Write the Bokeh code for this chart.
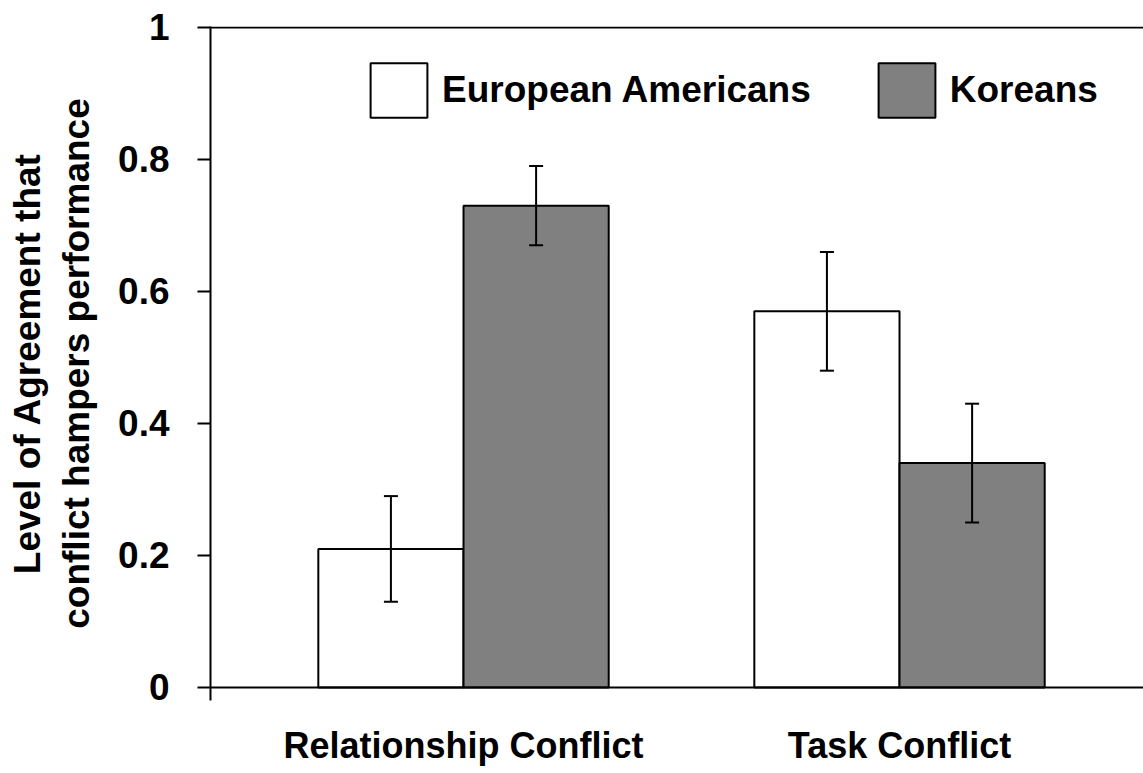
from bokeh.plotting import figure
from bokeh.models import Range1d, FixedTicker, Span, Whisker, TeeHead, ColumnDataSource
from bokeh.embed import file_html
from bokeh.resources import INLINE

categories = ["Relationship Conflict", "Task Conflict"]
series_names = ["European Americans", "Koreans"]
ea_values = [0.21, 0.57]
ea_lower = [0.13, 0.48]
ea_upper = [0.29, 0.66]
ko_values = [0.73, 0.34]
ko_lower = [0.67, 0.25]
ko_upper = [0.79, 0.43]
y_ticks = [0, 0.2, 0.4, 0.6, 0.8, 1]
y_tick_labels = ["0", "0.2", "0.4", "0.6", "0.8", "1"]

FONT = "Liberation Sans"
bar_w = 0.333
off = 0.1665
centers = [i + 1 for i in range(len(categories))]

p = figure(width=1143, height=770, output_backend="svg", toolbar_location=None,
           x_range=Range1d(0.4197, 2.5596), y_range=Range1d(-0.0197, 1.0015),
           min_border_left=210, min_border_right=0, min_border_top=26, min_border_bottom=70)
p.outline_line_color = None
p.xgrid.visible = False
p.ygrid.visible = False
p.background_fill_color = "white"

src_ea = ColumnDataSource(dict(x=[c - off for c in centers], top=ea_values, lo=ea_lower, hi=ea_upper))
src_ko = ColumnDataSource(dict(x=[c + off for c in centers], top=ko_values, lo=ko_lower, hi=ko_upper))

p.vbar(x="x", top="top", bottom=0, width=bar_w, source=src_ea, fill_color="white",
       line_color="black", line_width=2, legend_label=series_names[0])
p.vbar(x="x", top="top", bottom=0, width=bar_w, source=src_ko, fill_color="#808080",
       line_color="black", line_width=2, legend_label=series_names[1])

for src in (src_ea, src_ko):
    w = Whisker(base="x", upper="hi", lower="lo", source=src, line_color="black", line_width=2,
                level="overlay",
                upper_head=TeeHead(size=14, line_width=2, line_color="black"),
                lower_head=TeeHead(size=14, line_width=2, line_color="black"))
    p.add_layout(w)

p.add_layout(Span(location=0, dimension="width", line_color="black", line_width=2))
p.add_layout(Span(location=1, dimension="width", line_color="black", line_width=2))

# y axis
p.yaxis.ticker = FixedTicker(ticks=y_ticks)
p.yaxis.major_label_overrides = {t: l for t, l in zip(y_ticks, y_tick_labels)}
p.yaxis.minor_tick_line_color = None
p.yaxis.major_tick_in = 0
p.yaxis.major_tick_out = 13
p.yaxis.major_tick_line_width = 2
p.yaxis.major_tick_line_color = "black"
p.yaxis.axis_line_width = 2
p.yaxis.axis_line_color = "black"
p.yaxis.major_label_standoff = 28
p.yaxis.major_label_text_font = FONT
p.yaxis.major_label_text_font_style = "bold"
p.yaxis.major_label_text_font_size = "37px"
p.yaxis.major_label_text_color = "black"
p.yaxis.axis_label = "Level of Agreement that\nconflict hampers performance"
p.yaxis.axis_label_text_font = FONT
p.yaxis.axis_label_text_font_style = "bold"
p.yaxis.axis_label_text_font_size = "37px"
p.yaxis.axis_label_text_color = "black"
p.yaxis.axis_label_standoff = 18

# x axis
p.xaxis.ticker = FixedTicker(ticks=centers)
p.xaxis.major_label_overrides = {c: n for c, n in zip(centers, categories)}
p.xaxis.axis_line_color = None
p.xaxis.major_tick_line_color = None
p.xaxis.minor_tick_line_color = None
p.xaxis.major_tick_in = 0
p.xaxis.major_tick_out = 0
p.xaxis.major_label_standoff = 24
p.xaxis.major_label_text_font = FONT
p.xaxis.major_label_text_font_style = "bold"
p.xaxis.major_label_text_font_size = "36px"
p.xaxis.major_label_text_color = "black"

# legend
lg = p.legend[0]
lg.orientation = "horizontal"
lg.location = (153, 576)
lg.padding = 0
lg.margin = 0
lg.border_line_color = None
lg.background_fill_alpha = 0
lg.glyph_width = 71
lg.glyph_height = 68
lg.label_standoff = 8
lg.spacing = 60
lg.label_text_font = FONT
lg.label_text_font_style = "bold"
lg.label_text_font_size = "37px"
lg.label_text_color = "black"

open("out.html", "w").write(file_html(p, INLINE))
